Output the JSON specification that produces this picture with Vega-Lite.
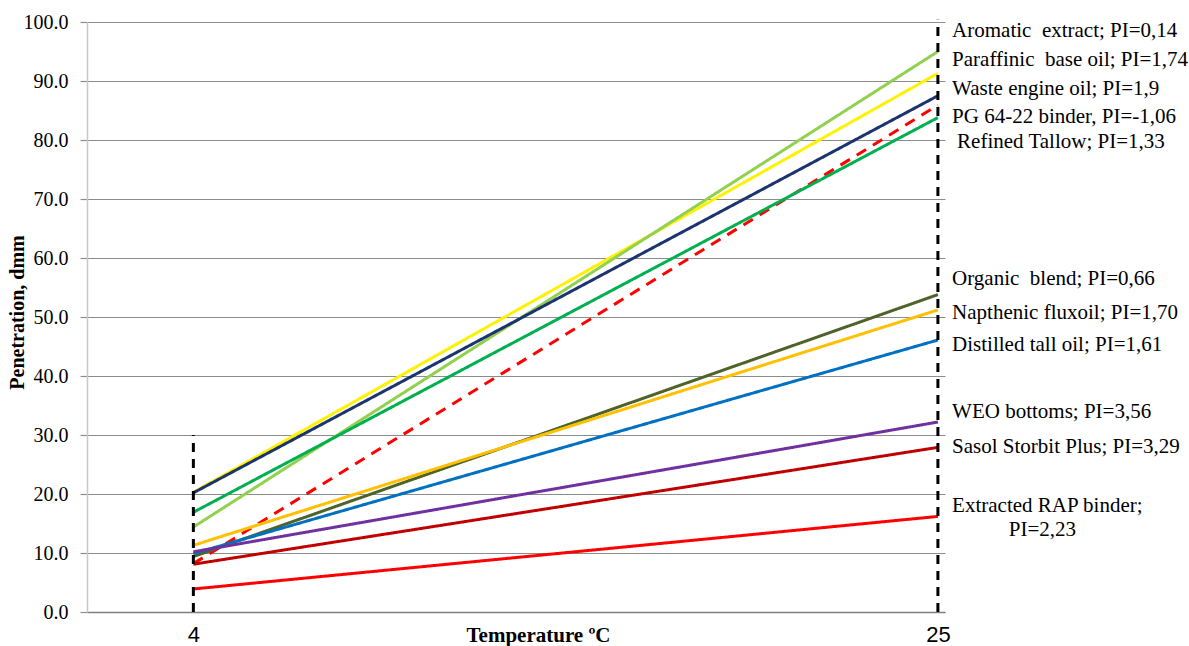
{
  "$schema": "https://vega.github.io/schema/vega-lite/v6.json",
  "autosize": {"type": "none"},
  "padding": {"left": 87, "top": 22, "right": 244, "bottom": 34},
  "width": 858,
  "height": 590,
  "background": "white",
  "config": {"view": {"stroke": null}},
  "datasets": {
    "lines": [
      {"series": "Paraffinic base oil", "temp": 4, "pen": 20.3},
      {"series": "Paraffinic base oil", "temp": 25, "pen": 91.3},
      {"series": "Aromatic extract", "temp": 4, "pen": 14.4},
      {"series": "Aromatic extract", "temp": 25, "pen": 95.0},
      {"series": "Waste engine oil", "temp": 4, "pen": 20.2},
      {"series": "Waste engine oil", "temp": 25, "pen": 87.5},
      {"series": "PG 64-22 binder", "temp": 4, "pen": 8.2},
      {"series": "PG 64-22 binder", "temp": 25, "pen": 85.9},
      {"series": "Refined Tallow", "temp": 4, "pen": 16.9},
      {"series": "Refined Tallow", "temp": 25, "pen": 83.8},
      {"series": "Organic blend", "temp": 4, "pen": 9.4},
      {"series": "Organic blend", "temp": 25, "pen": 53.8},
      {"series": "Napthenic fluxoil", "temp": 4, "pen": 11.3},
      {"series": "Napthenic fluxoil", "temp": 25, "pen": 51.2},
      {"series": "Distilled tall oil", "temp": 4, "pen": 9.9},
      {"series": "Distilled tall oil", "temp": 25, "pen": 46.1},
      {"series": "WEO bottoms", "temp": 4, "pen": 10.2},
      {"series": "WEO bottoms", "temp": 25, "pen": 32.2},
      {"series": "Sasol Storbit Plus", "temp": 4, "pen": 8.1},
      {"series": "Sasol Storbit Plus", "temp": 25, "pen": 27.9},
      {"series": "Extracted RAP binder", "temp": 4, "pen": 3.9},
      {"series": "Extracted RAP binder", "temp": 25, "pen": 16.2}
    ],
    "verticals": [
      {"temp": 4, "lo": 0, "hi": 30},
      {"temp": 25, "lo": 0, "hi": 100.4}
    ],
    "labels": [
      {"label": "Aromatic\u00a0 extract; PI=0,14", "lx": 25.4, "ly": 98.5},
      {"label": "Paraffinic\u00a0 base oil; PI=1,74", "lx": 25.4, "ly": 93.6},
      {"label": "Waste engine oil; PI=1,9", "lx": 25.4, "ly": 88.6},
      {"label": "PG 64-22 binder, PI=-1,06", "lx": 25.4, "ly": 83.9},
      {"label": "Refined Tallow; PI=1,33", "lx": 25.54, "ly": 79.7},
      {"label": "Organic\u00a0 blend; PI=0,66", "lx": 25.4, "ly": 56.4},
      {"label": "Napthenic fluxoil; PI=1,70", "lx": 25.4, "ly": 50.7},
      {"label": "Distilled tall oil; PI=1,61", "lx": 25.4, "ly": 45.3},
      {"label": "WEO bottoms; PI=3,56", "lx": 25.4, "ly": 33.9},
      {"label": "Sasol Storbit Plus; PI=3,29", "lx": 25.4, "ly": 28.0},
      {"label": "Extracted RAP binder;", "lx": 25.4, "ly": 18.0},
      {"label": "PI=2,23", "lx": 27.0, "ly": 13.9}
    ]
  },
  "layer": [
    {
      "data": {"name": "lines"},
      "mark": {"type": "line", "strokeWidth": 3, "clip": false},
      "encoding": {
        "x": {
          "field": "temp", "type": "quantitative",
          "scale": {"domain": [1, 25.2], "nice": false, "zero": false},
          "axis": {
            "values": [4, 25], "grid": false, "ticks": false,
            "labelFont": "Liberation Sans", "labelFontSize": 22, "labelColor": "black",
            "labelPadding": 22, "labelBaseline": "middle",
            "domainColor": "#808080", "domainWidth": 1.5,
            "title": "Temperature ºC", "titleFont": "Liberation Serif", "titleFontSize": 21,
            "titleFontWeight": "bold", "titleColor": "black",
            "titleX": 451, "titleY": 23, "titleBaseline": "middle"
          }
        },
        "y": {
          "field": "pen", "type": "quantitative",
          "scale": {"domain": [0, 100], "nice": false},
          "axis": {
            "values": [0, 10, 20, 30, 40, 50, 60, 70, 80, 90, 100],
            "format": ".1f", "grid": true, "gridColor": "#8c8c8c", "gridWidth": 1.2,
            "tickSize": 7, "tickColor": "#8c8c8c", "tickWidth": 1.2,
            "domainColor": "#c8c8c8", "domainWidth": 1.5,
            "labelFont": "Liberation Serif", "labelFontSize": 20, "labelColor": "black",
            "labelPadding": 12,
            "title": "Penetration, dmm", "titleFont": "Liberation Serif", "titleFontSize": 20,
            "titleFontWeight": "bold", "titleColor": "black",
            "titleX": -70, "titleY": 290, "titleBaseline": "middle"
          }
        },
        "color": {
          "field": "series", "type": "nominal", "legend": null,
          "scale": {
            "domain": ["Paraffinic base oil", "Aromatic extract", "Waste engine oil", "PG 64-22 binder", "Refined Tallow", "Organic blend", "Napthenic fluxoil", "Distilled tall oil", "WEO bottoms", "Sasol Storbit Plus", "Extracted RAP binder"],
            "range": ["#FFF200", "#92D050", "#1B3470", "#FF0000", "#00B050", "#4F6228", "#FFC000", "#0070C0", "#7030A0", "#C00000", "#FF0000"]
          }
        },
        "strokeDash": {
          "field": "series", "type": "nominal", "legend": null,
          "scale": {
            "domain": ["Paraffinic base oil", "Aromatic extract", "Waste engine oil", "PG 64-22 binder", "Refined Tallow", "Organic blend", "Napthenic fluxoil", "Distilled tall oil", "WEO bottoms", "Sasol Storbit Plus", "Extracted RAP binder"],
            "range": [[1, 0], [1, 0], [1, 0], [11, 8], [1, 0], [1, 0], [1, 0], [1, 0], [1, 0], [1, 0], [1, 0]]
          }
        },
        "size": {
          "field": "series", "type": "nominal", "legend": null,
          "scale": {
            "domain": ["Paraffinic base oil", "Aromatic extract", "Waste engine oil", "PG 64-22 binder", "Refined Tallow", "Organic blend", "Napthenic fluxoil", "Distilled tall oil", "WEO bottoms", "Sasol Storbit Plus", "Extracted RAP binder"],
            "range": [3, 3, 3, 3, 3, 3, 3, 3, 3, 3, 4]
          }
        }
      }
    },
    {
      "data": {"name": "verticals"},
      "mark": {"type": "rule", "color": "black", "strokeWidth": 3, "strokeDash": [9, 7], "clip": false},
      "encoding": {
        "x": {"field": "temp", "type": "quantitative"},
        "y": {"field": "lo", "type": "quantitative"},
        "y2": {"field": "hi"}
      }
    },
    {
      "data": {"name": "labels"},
      "mark": {"type": "text", "align": "left", "baseline": "middle", "font": "Liberation Serif", "fontSize": 21, "color": "black", "clip": false},
      "encoding": {
        "x": {"field": "lx", "type": "quantitative"},
        "y": {"field": "ly", "type": "quantitative"},
        "text": {"field": "label"}
      }
    }
  ]
}
